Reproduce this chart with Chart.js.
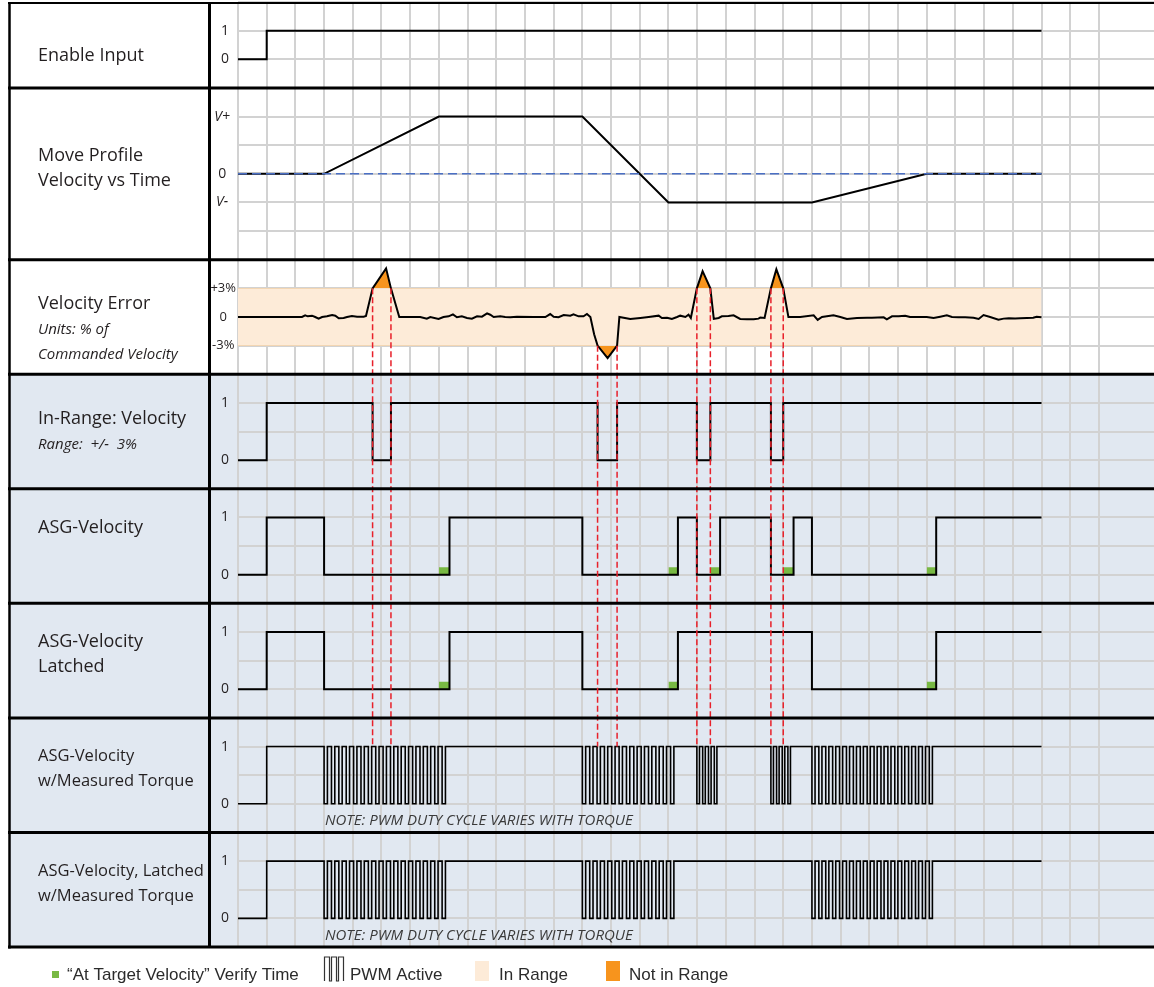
<!DOCTYPE html>
<html>
<head>
<meta charset="utf-8">
<script src="https://cdn.jsdelivr.net/npm/chart.js@4.4.1/dist/chart.umd.min.js"></script>
<style>
  html, body { margin: 0; padding: 0; background: #ffffff; }
  #wrap { position: relative; width: 1154px; height: 987px; }
</style>
</head>
<body>
<div id="wrap"><canvas id="timing_chart"></canvas></div>
<script>
// time axis is in grid cells, signals end at t = 28
const X_MAX = 31.92

const enableT = [0, 1, 28]
const enableV = [0, 1, 1]

const moveT = [0, 3, 7, 12, 15, 20, 24, 28]
const moveV = [0, 0, 2, 2, -1, -1, 0, 0]

// velocity error in %
const errT = [
  0, 2.23, 2.34, 2.43, 2.58, 2.69, 2.81, 2.93, 3.1, 3.28, 3.39, 3.51, 3.68, 3.8, 3.97, 4.15, 4.38,
  4.46, 4.69, 5.16, 5.33, 5.62,
  6.35, 6.58, 6.7, 6.99, 7.16, 7.34, 7.49, 7.63, 7.8, 7.98, 8.15, 8.33, 8.5, 8.68, 8.79, 8.91,
  9.14, 9.31, 9.49, 9.72, 10.3, 10.71, 10.88, 11.0, 11.17, 11.35, 11.58, 11.69, 11.87, 12.04, 12.16, 12.28,
  12.41, 12.53, 12.88, 13.21, 13.29,
  13.67, 14.02, 14.31, 14.66, 14.77, 14.95, 15.12, 15.3, 15.41, 15.59, 15.7, 15.78,
  15.99, 16.19, 16.46, 16.58,
  16.75, 16.86, 17.09, 17.27, 17.5, 17.74, 17.97, 18.14, 18.2, 18.35,
  18.57, 18.76, 19.0, 19.18,
  19.59, 20.06, 20.2, 20.35, 20.52, 20.75, 20.99, 21.22, 21.57, 21.92, 22.09, 22.5, 22.61, 22.79,
  23.02, 23.25, 23.42, 23.66, 24.0, 24.24, 24.47, 24.7, 24.88, 25.11, 25.34, 25.63, 25.81, 25.98,
  26.21, 26.5, 26.68, 26.86, 27.08, 27.26, 27.49, 27.71, 27.83, 28.0,
]
const errV = [
  0, 0, 0.17, 0.07, 0.14, 0, -0.17, 0, 0.07, 0.21, 0.14, -0.14, -0.1, 0, 0.1, 0.03, 0.03,
  0.1, 3, 5.1, 3, 0,
  0, -0.17, 0, -0.21, 0, 0.07, 0.28, -0.03, 0.07, -0.1, -0.17, 0.07, 0.03, 0.38, 0.24, 0,
  0.07, 0, -0.03, 0.03, 0, 0, 0.31, 0.03, -0.03, 0.21, 0.14, 0.28, 0.07, 0.07, 0.31, 0,
  -1.8, -3, -4.3, -3, 0,
  -0.21, -0.1, 0, 0.14, -0.1, -0.07, -0.21, 0, 0.14, 0, 0.24, -0.1,
  3, 4.8, 3, -0.2,
  -0.1, 0.07, 0.1, 0.17, -0.2, -0.24, -0.24, -0.17, -0.05, -0.1,
  3, 5.0, 3, 0,
  0, 0.17, -0.3, 0, 0.07, 0.17, 0, -0.2, -0.1, -0.07, -0.07, -0.03, -0.24, 0.07,
  0.07, 0.14, 0, 0, 0, -0.1, 0.03, 0.17, 0, -0.03, -0.03, -0.07, -0.2, 0.21,
  0, -0.28, -0.17, -0.14, -0.17, -0.14, -0.1, -0.07, 0.03, -0.03,
]

const inRangeT = [0, 1, 4.69, 5.33, 12.53, 13.21, 15.99, 16.46, 18.57, 19.0, 28]
const inRangeV = [0, 1, 0, 1, 0, 1, 0, 1, 0, 1, 1]

const asgT = [0, 1, 3, 7.37, 12.0, 15.33, 15.99, 16.8, 18.57, 19.36, 20.0, 24.33, 28]
const asgV = [0, 1, 0, 1, 0, 1, 0, 1, 0, 1, 0, 1, 1]

const latchT = [0, 1, 3, 7.37, 12.0, 15.33, 20.0, 24.33, 28]
const latchV = [0, 1, 0, 1, 0, 1, 0, 1, 1]

// "at target velocity" verify windows
const verifyAsg = [[7.0, 7.37], [15.0, 15.33], [16.46, 16.8], [19.0, 19.36], [24.0, 24.33]]
const verifyLatch = [[7.0, 7.37], [15.0, 15.33], [24.0, 24.33]]

// PWM pulses counted in each low stretch of the ASG signals
const pwmAsg = [0, 17, 13, 4, 4, 18]
const pwmLatch = [0, 17, 13, 18]

// in-range edges, traced down from the +/-3% band
const crossT = [4.69, 5.33, 12.53, 13.21, 15.99, 16.46, 18.57, 19.0]
const crossLevel = [3, 3, -3, -3, 3, 3, 3, 3]

const logicTickVals = [0, 1]
const logicTickText = ["0", "1"]
const velTickVals = [-1, 0, 2]
const velTickText = ["V-", "0", "V+"]
const errTickVals = [-3, 0, 3]
const errTickText = ["-3%", "0", "+3%"]

const rowLabels = [
  [["Enable Input", "main"]],
  [["Move Profile", "main"], ["Velocity vs Time", "main"]],
  [["Velocity Error", "main"], ["Units: % of", "sub"], ["Commanded Velocity", "sub"]],
  [["In-Range: Velocity", "main"], ["Range:  +/-  3%", "sub"]],
  [["ASG-Velocity", "main"]],
  [["ASG-Velocity", "main"], ["Latched", "main"]],
  [["ASG-Velocity", "small"], ["w/Measured Torque", "small"]],
  [["ASG-Velocity, Latched", "small"], ["w/Measured Torque", "small"]],
]
const noteText = "NOTE: PWM DUTY CYCLE VARIES WITH TORQUE"
const legendText = ["\u201CAt Target Velocity\u201D Verify Time", "PWM Active", "In Range", "Not in Range"]

const INK = "#231f20"
const GRID = "#d2d2d2"
const BLUE_BG = "#e1e8f1"
const PEACH = "#fdebd8"
const ORANGE = "#f7941d"
const GREEN = "#78b943"
const rowAxes = ["yEnable", "yMove", "yErr", "yRange", "yAsg", "yLatch", "yTorque", "yTorqueLatch"]
const labelBase = [58.7, 73.5, 49, 50, 44.5, 43.5, 43.5, 43.5]
const labelFonts = {
  main: '18px "Open Sans"',
  sub: 'italic 15px "Open Sans"',
  small: '16.5px "Open Sans"',
}

const pts = (ts, vs) => ts.map((t, i) => ({ x: t, y: vs[i] }))

// square wave inside every low stretch of a step signal
function withPwm(ts, vs, pulses) {
  const out = []
  let low = 0
  ts.forEach((t, i) => {
    out.push({ x: t, y: vs[i] })
    if (vs[i] === 0 && i < ts.length - 1) {
      const n = pulses[low++]
      if (!n) return
      const step = (ts[i + 1] - t) / n
      for (let k = 0; k < n; k++) {
        out.push({ x: t + k * step + step * 0.45, y: 1 })
        if (k < n - 1) out.push({ x: t + (k + 1) * step, y: 0 })
      }
    }
  })
  return out
}

const signal = (data, yAxisID, extra) => ({
  data,
  yAxisID,
  borderColor: "#000000",
  borderWidth: 2,
  pointRadius: 0,
  fill: false,
  order: 1,
  ...extra,
})

const verifySets = (list, yAxisID) =>
  list.map(([a, b]) => ({
    data: [{ x: a, y: 0.13 }, { x: b, y: 0.13 }],
    yAxisID,
    borderColor: "transparent",
    borderWidth: 0,
    pointRadius: 0,
    backgroundColor: GREEN,
    fill: { target: { value: 0 } },
    order: 5,
  }))

function rowScale(weight, stackWeight, min, max, step, vals, text, font, pad) {
  return {
    type: "linear",
    position: "left",
    stack: "rows",
    stackWeight,
    weight,
    min,
    max,
    grid: { color: GRID, lineWidth: 2, drawTicks: false },
    border: { display: false },
    ticks: {
      stepSize: step,
      autoSkip: false,
      padding: pad,
      crossAlign: "center",
      color: INK,
      font,
      callback: (v) => {
        const i = vals.indexOf(v)
        return i < 0 ? "" : text[i]
      },
    },
    afterFit: (s) => {
      s.width = 28
      s.paddingTop = 0
      s.paddingBottom = 0
    },
  }
}

const digitFont = { family: "Open Sans", size: 14 }

const timingFrame = {
  id: "timingFrame",
  beforeDraw(chart) {
    const { ctx, scales } = chart
    ctx.save()
    ctx.fillStyle = "#ffffff"
    ctx.fillRect(0, 0, chart.width, chart.height)
    ctx.fillStyle = BLUE_BG
    const top = scales.yRange.top
    ctx.fillRect(9, top, chart.width - 9, scales.yTorqueLatch.bottom - top)
    ctx.restore()
  },
  afterDatasetsDraw(chart) {
    const { ctx, scales } = chart
    ctx.save()
    ctx.strokeStyle = "#e8202a"
    ctx.lineWidth = 1.5
    ctx.setLineDash([6, 3])
    crossT.forEach((t, i) => {
      const x = scales.x.getPixelForValue(t)
      ctx.beginPath()
      ctx.moveTo(x, scales.yErr.getPixelForValue(crossLevel[i]))
      ctx.lineTo(x, scales.yTorque.getPixelForValue(1))
      ctx.stroke()
    })
    ctx.restore()
  },
  afterDraw(chart) {
    const { ctx, scales, chartArea } = chart
    const top = scales.yEnable.top
    const bottom = scales.yTorqueLatch.bottom
    ctx.save()

    // notes under the PWM rows
    ctx.fillStyle = "#3a3a3a"
    ctx.font = 'italic 15px "Open Sans"'
    ctx.textBaseline = "alphabetic"
    ;["yTorque", "yTorqueLatch"].forEach((id) => {
      ctx.fillText(noteText, scales.x.getPixelForValue(3.03), scales[id].getPixelForValue(0) + 21.5, 314)
    })

    // frame
    ctx.strokeStyle = "#000000"
    ctx.lineWidth = 3
    rowAxes.forEach((id) => {
      ctx.beginPath()
      ctx.moveTo(8, scales[id].bottom)
      ctx.lineTo(chart.width, scales[id].bottom)
      ctx.stroke()
    })
    ctx.beginPath()
    ctx.moveTo(chartArea.left - 28.5, top)
    ctx.lineTo(chartArea.left - 28.5, bottom)
    ctx.stroke()
    ctx.lineWidth = 2.5
    ctx.beginPath()
    ctx.moveTo(9.5, top)
    ctx.lineTo(9.5, bottom + 1.5)
    ctx.stroke()
    ctx.lineWidth = 2
    ctx.beginPath()
    ctx.moveTo(8, top + 1)
    ctx.lineTo(chart.width, top + 1)
    ctx.stroke()

    // row names
    ctx.fillStyle = INK
    rowLabels.forEach((lines, r) => {
      const y0 = scales[rowAxes[r]].top + labelBase[r]
      lines.forEach(([text, style], j) => {
        ctx.font = labelFonts[style]
        ctx.fillText(text, 38, y0 + j * 25)
      })
    })

    // legend
    const ly = 980
    ctx.font = '17px "Liberation Sans", Arial, sans-serif'
    ctx.fillStyle = GREEN
    ctx.fillRect(52, 971, 7, 7)
    ctx.fillStyle = PEACH
    ctx.fillRect(475, 961, 14, 20)
    ctx.fillStyle = ORANGE
    ctx.fillRect(606, 961, 14, 20)
    ctx.strokeStyle = "#333333"
    ctx.lineWidth = 1.2
    ctx.beginPath()
    ctx.moveTo(324.5, 981)
    ;[324.5, 331.5, 338.5].forEach((x, i) => {
      ctx.lineTo(x, 957)
      ctx.lineTo(x + 5, 957)
      ctx.lineTo(x + 5, 981)
      if (i < 2) ctx.lineTo(x + 7, 981)
    })
    ctx.stroke()
    ctx.fillStyle = "#2b2b2b"
    ;[67, 350, 499, 629].forEach((x, i) => ctx.fillText(legendText[i], x, ly))
    ctx.restore()
  },
}

new Chart(document.getElementById("timing_chart"), {
  type: "line",
  data: {
    datasets: [
      signal(pts(enableT, enableV), "yEnable", { stepped: "before" }),
      signal(
        [
          { x: 0, y: 0 },
          { x: 28, y: 0 },
        ],
        "yMove",
        { borderColor: "#4a6fc4", borderWidth: 1.5, borderDash: [9, 5], order: 0 },
      ),
      signal(pts(moveT, moveV), "yMove"),
      signal(pts(errT, errV), "yErr", {
        fill: { target: { value: 3 }, above: ORANGE, below: "rgba(0,0,0,0)" },
      }),
      signal(pts(errT, errV), "yErr", {
        borderColor: "transparent",
        borderWidth: 0,
        fill: { target: { value: -3 }, above: "rgba(0,0,0,0)", below: ORANGE },
        order: 5,
      }),
      signal(
        [
          { x: 0, y: 3 },
          { x: 28, y: 3 },
        ],
        "yErr",
        {
          borderColor: "transparent",
          borderWidth: 0,
          backgroundColor: PEACH,
          fill: { target: { value: -3 } },
          order: 10,
        },
      ),
      signal(pts(inRangeT, inRangeV), "yRange", { stepped: "before" }),
      signal(pts(asgT, asgV), "yAsg", { stepped: "before" }),
      ...verifySets(verifyAsg, "yAsg"),
      signal(pts(latchT, latchV), "yLatch", { stepped: "before" }),
      ...verifySets(verifyLatch, "yLatch"),
      signal(withPwm(asgT, asgV, pwmAsg), "yTorque", { stepped: "before", borderWidth: 1.6 }),
      signal(withPwm(latchT, latchV, pwmLatch), "yTorqueLatch", { stepped: "before", borderWidth: 1.6 }),
    ],
  },
  options: {
    responsive: true,
    maintainAspectRatio: false,
    devicePixelRatio: window.devicePixelRatio,
    animation: false,
    layout: {
      autoPadding: false,
      padding: { left: 210, top: 2, right: 0, bottom: 40 },
    },
    plugins: {
      legend: { display: false },
      tooltip: { enabled: false },
    },
    scales: {
      x: {
        type: "linear",
        min: 0,
        max: X_MAX,
        grid: { color: GRID, lineWidth: 2, drawTicks: false },
        border: { display: false },
        ticks: { display: false, stepSize: 1 },
        afterBuildTicks: (s) => {
          s.ticks = s.ticks.filter((t) => Number.isInteger(t.value))
        },
      },
      yEnable: rowScale(8, 3, -1, 2, 1, logicTickVals, logicTickText, digitFont, 9),
      yMove: rowScale(7, 6, -3, 3, 1, velTickVals, velTickText, (c) => ({
        family: "Open Sans",
        size: 14,
        style: c.tick && c.tick.value !== 0 ? "italic" : "normal",
      }), 8),
      yErr: rowScale(6, 4, -6, 6, 3, errTickVals, errTickText, { family: "Open Sans", size: 13 }, 2),
      yRange: rowScale(5, 4, -0.5, 1.5, 0.5, logicTickVals, logicTickText, digitFont, 9),
      yAsg: rowScale(4, 4, -0.5, 1.5, 0.5, logicTickVals, logicTickText, digitFont, 9),
      yLatch: rowScale(3, 4, -0.5, 1.5, 0.5, logicTickVals, logicTickText, digitFont, 9),
      yTorque: rowScale(2, 4, -0.5, 1.5, 0.5, logicTickVals, logicTickText, digitFont, 9),
      yTorqueLatch: rowScale(1, 4, -0.5, 1.5, 0.5, logicTickVals, logicTickText, digitFont, 9),
    },
  },
  plugins: [timingFrame],
})
</script>
</body>
</html>
